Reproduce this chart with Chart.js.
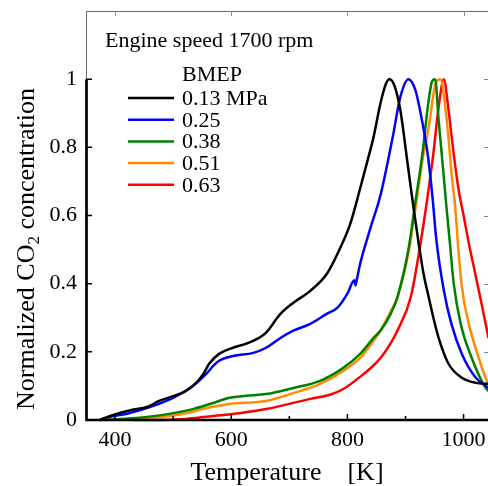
<!DOCTYPE html>
<html><head><meta charset="utf-8">
<script src="https://cdn.jsdelivr.net/npm/chart.js@4/dist/chart.umd.min.js"></script>
<style>html,body{margin:0;padding:0;background:#fff;overflow:hidden}#wrap{position:relative;width:488px;height:486px}</style>
</head><body><div id="wrap"><canvas id="c" width="488" height="486"></canvas></div>
<script>
// ---- data ----
const seriesLabels = ['0.13 MPa', '0.25', '0.38', '0.51', '0.63'];
const seriesColors = ['#000000', '#0000ff', '#008000', '#ff8c00', '#ff0000'];

const t013 = [374, 397, 430, 455, 476, 500, 522, 540, 552, 562, 579, 603, 626, 648, 660, 684, 707, 736, 765, 788, 805, 822, 836, 845, 857, 866, 872, 880, 891, 903, 914, 922, 931, 940, 948, 957, 974, 997, 1021, 1043];
const v013 = [0, 0.015, 0.03, 0.038, 0.056, 0.07, 0.085, 0.11, 0.135, 0.165, 0.194, 0.212, 0.224, 0.241, 0.256, 0.31, 0.344, 0.379, 0.43, 0.506, 0.576, 0.68, 0.77, 0.83, 0.93, 0.985, 1.0, 0.985, 0.91, 0.76, 0.62, 0.526, 0.43, 0.36, 0.30, 0.241, 0.165, 0.124, 0.109, 0.106];

const t025 = [374, 384, 424, 465, 500, 534, 557, 569, 579, 603, 638, 660, 684, 707, 736, 765, 783, 800, 812, 814, 816, 822, 840, 857, 878, 891, 905, 917, 926, 938, 947, 953, 966, 979, 997, 1021, 1043];
const v025 = [0, 0.006, 0.02, 0.041, 0.065, 0.1, 0.135, 0.159, 0.174, 0.188, 0.197, 0.212, 0.24, 0.262, 0.282, 0.312, 0.33, 0.371, 0.41, 0.395, 0.41, 0.459, 0.565, 0.66, 0.83, 0.947, 1.0, 0.968, 0.9, 0.782, 0.644, 0.53, 0.38, 0.282, 0.194, 0.124, 0.094];

const t038 = [380, 436, 493, 534, 569, 597, 626, 660, 707, 753, 793, 822, 845, 858, 874, 886, 905, 917, 929, 940, 946, 951, 957, 965, 971, 976, 983, 995, 1014, 1038, 1043];
const v038 = [0, 0.006, 0.018, 0.032, 0.05, 0.065, 0.071, 0.076, 0.094, 0.115, 0.153, 0.194, 0.241, 0.265, 0.31, 0.36, 0.5, 0.64, 0.78, 0.94, 0.995, 1.0, 0.88, 0.73, 0.615, 0.526, 0.4, 0.282, 0.182, 0.094, 0.085];

const t051 = [374, 397, 465, 522, 557, 597, 660, 707, 753, 793, 822, 845, 857, 872, 886, 905, 917, 931, 940, 952, 960, 971, 979, 986, 991, 997, 1009, 1026, 1040, 1043];
const v051 = [0, 0.002, 0.006, 0.02, 0.035, 0.047, 0.056, 0.079, 0.106, 0.144, 0.182, 0.232, 0.262, 0.31, 0.36, 0.49, 0.62, 0.78, 0.86, 0.988, 1.0, 0.88, 0.73, 0.615, 0.5, 0.39, 0.282, 0.182, 0.115, 0.105];

const t063 = [430, 480, 522, 569, 614, 660, 736, 771, 793, 828, 843, 857, 872, 886, 909, 926, 940, 948, 957, 966, 974, 983, 991, 1000, 1010, 1020, 1031, 1043];
const v063 = [0, 0.0, 0.003, 0.012, 0.02, 0.032, 0.062, 0.075, 0.091, 0.135, 0.157, 0.182, 0.218, 0.262, 0.36, 0.52, 0.68, 0.782, 0.918, 1.0, 0.91, 0.78, 0.68, 0.6, 0.51, 0.43, 0.34, 0.24];

const xMajorTicks = [400, 600, 800, 1000];
const xMinorTicks = [500, 700, 900];
const yTicks = [0, 0.2, 0.4, 0.6, 0.8, 1];
const legendTitle = 'BMEP';
const annotationText = 'Engine speed 1700 rpm';
const xTitle = 'Temperature    [K]';
const yTitleParts = ['Normalized CO', '2', ' concentration'];

// ---- chart ----
const FONT = "'Liberation Serif', 'Times New Roman', serif";
const allT = [t013, t025, t038, t051, t063];
const allV = [v013, v025, v038, v051, v063];
const datasets = seriesLabels.map((lab, i) => ({
  label: lab,
  data: allT[i].map((t, k) => ({x: t, y: allV[i][k]})),
  borderColor: seriesColors[i],
  backgroundColor: seriesColors[i],
  borderWidth: 2.5,
  pointRadius: 0,
  cubicInterpolationMode: 'monotone',
  fill: false,
  clip: false
}));

const noPad = s => { s.paddingTop = 0; s.paddingBottom = 0; s.paddingLeft = 0; s.paddingRight = 0; };

const decor = {
  id: 'decor',
  afterDatasetsDraw(chart) {
    const {ctx, chartArea: a, scales: {x, y}} = chart;
    ctx.save();
    ctx.strokeStyle = '#666'; ctx.lineWidth = 1;
    ctx.beginPath();
    ctx.moveTo(a.left, a.top + 0.5); ctx.lineTo(a.right, a.top + 0.5);
    ctx.moveTo(a.left + 0.5, a.top); ctx.lineTo(a.left + 0.5, y.getPixelForValue(1));
    ctx.stroke();
    ctx.strokeStyle = '#888';
    ctx.beginPath();
    xMajorTicks.forEach(v => { const px = Math.round(x.getPixelForValue(v)) + 0.5; ctx.moveTo(px, a.top); ctx.lineTo(px, a.top + 5); });
    yTicks.forEach(v => { const py = Math.round(y.getPixelForValue(v)) + 0.5; ctx.moveTo(a.right, py); ctx.lineTo(a.right - 4, py); });
    ctx.stroke();
    ctx.strokeStyle = '#000'; ctx.lineWidth = 2.7;
    ctx.beginPath();
    ctx.moveTo(a.left + 0.5, y.getPixelForValue(1));
    ctx.lineTo(a.left + 0.5, a.bottom);
    ctx.lineTo(a.right, a.bottom);
    ctx.stroke();
    ctx.lineWidth = 1.5;
    ctx.beginPath();
    xMajorTicks.forEach(v => { const px = x.getPixelForValue(v); ctx.moveTo(px, a.bottom); ctx.lineTo(px, a.bottom - 6); });
    xMinorTicks.forEach(v => { const px = x.getPixelForValue(v); ctx.moveTo(px, a.bottom); ctx.lineTo(px, a.bottom - 4); });
    yTicks.forEach(v => { const py = y.getPixelForValue(v); ctx.moveTo(a.left, py); ctx.lineTo(a.left + 6, py); });
    ctx.stroke();
    ctx.restore();
  },
  afterDraw(chart) {
    const {ctx, chartArea: a} = chart;
    ctx.save();
    ctx.fillStyle = '#000';
    ctx.textBaseline = 'alphabetic';
    ctx.font = '22px ' + FONT;
    ctx.textAlign = 'left';
    ctx.fillText(annotationText, 105, 47);
    ctx.fillText(legendTitle, 182, 81);
    chart.data.datasets.forEach((ds, i) => {
      const ly = 98 + i * 21.7;
      ctx.strokeStyle = ds.borderColor; ctx.lineWidth = 2.5;
      ctx.beginPath(); ctx.moveTo(128, ly); ctx.lineTo(174, ly); ctx.stroke();
      ctx.fillText(ds.label, 182, ly + 7);
    });
    ctx.font = '26px ' + FONT;
    ctx.textAlign = 'center';
    ctx.fillText(xTitle, (a.left + a.right) / 2, 480);
    ctx.translate(34, 249);
    ctx.rotate(-Math.PI / 2);
    ctx.textAlign = 'left';
    const big = '26px ' + FONT, small = '17px ' + FONT;
    ctx.font = big; const w0 = ctx.measureText(yTitleParts[0]).width;
    ctx.font = small; const w1 = ctx.measureText(yTitleParts[1]).width;
    ctx.font = big; const w2 = ctx.measureText(yTitleParts[2]).width;
    let sx = -(w0 + w1 + w2) / 2;
    ctx.font = big; ctx.fillText(yTitleParts[0], sx, 0); sx += w0;
    ctx.font = small; ctx.fillText(yTitleParts[1], sx, 5); sx += w1;
    ctx.font = big; ctx.fillText(yTitleParts[2], sx, 0);
    ctx.restore();
  }
};

new Chart(document.getElementById('c'), {
  type: 'line',
  data: {datasets},
  plugins: [decor],
  options: {
    responsive: false,
    animation: false,
    devicePixelRatio: 1,
    layout: {padding: {top: 11, right: 0, left: 0, bottom: 0}},
    plugins: {legend: {display: false}, tooltip: {enabled: false}},
    scales: {
      x: {
        type: 'linear', min: 350, max: 1042,
        afterBuildTicks: s => { s.ticks = xMajorTicks.map(v => ({value: v})); },
        afterFit: s => { s.height = 66; noPad(s); },
        grid: {display: false, drawTicks: false},
        border: {display: false},
        ticks: {font: {family: FONT, size: 22}, color: '#000', padding: 7, maxRotation: 0, autoSkip: false,
                callback: v => String(v)}
      },
      y: {
        type: 'linear', min: 0, max: 1.2,
        afterBuildTicks: s => { s.ticks = yTicks.map(v => ({value: v})); },
        afterFit: s => { s.width = 86; noPad(s); },
        grid: {display: false, drawTicks: false},
        border: {display: false},
        ticks: {font: {family: FONT, size: 22}, color: '#000', padding: 9,
                callback: v => String(Math.round(v * 10) / 10)}
      }
    }
  }
});
</script></body></html>
